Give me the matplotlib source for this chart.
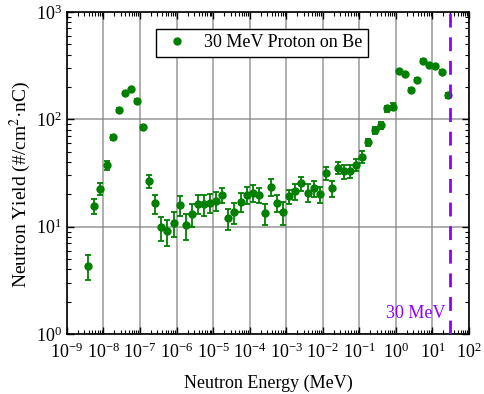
import numpy as np
import matplotlib
matplotlib.use("Agg")
import matplotlib.pyplot as plt
from matplotlib.lines import Line2D
from matplotlib.ticker import LogLocator, NullFormatter

# serif font close to Times
plt.rcParams.update({
    "font.family": "serif",
    "font.serif": ["Liberation Serif", "DejaVu Serif"],
    "mathtext.fontset": "stix",
    "axes.unicode_minus": False,
})

# neutron energy bin centres (MeV), 6 bins per decade
energy = [3.83e-9, 5.62e-9, 8.25e-9,
          1.21e-8, 1.78e-8, 2.61e-8, 3.83e-8, 5.62e-8, 8.25e-8,
          1.21e-7, 1.78e-7, 2.61e-7, 3.83e-7, 5.62e-7, 8.25e-7,
          1.21e-6, 1.78e-6, 2.61e-6, 3.83e-6, 5.62e-6, 8.25e-6,
          1.21e-5, 1.78e-5, 2.61e-5, 3.83e-5, 5.62e-5, 8.25e-5,
          1.21e-4, 1.78e-4, 2.61e-4, 3.83e-4, 5.62e-4, 8.25e-4,
          1.21e-3, 1.78e-3, 2.61e-3, 3.83e-3, 5.62e-3, 8.25e-3,
          1.21e-2, 1.78e-2, 2.61e-2, 3.83e-2, 5.62e-2, 8.25e-2,
          1.21e-1, 1.78e-1, 2.61e-1, 3.83e-1, 5.62e-1, 8.25e-1,
          1.21, 1.78, 2.61, 3.83, 5.62, 8.25,
          12.1, 17.8, 26.1]

# neutron yield (#/cm^2.nC)
yield_ = [4.3, 15.6, 22.6,
          37.2, 68, 123, 176, 191, 149,
          83.8, 26.6, 16.5, 9.9, 9.1, 10.9,
          16.0, 10.3, 13.2, 16.4, 16.1, 16.7,
          17.5, 19.7, 12.0, 13.7, 17.1, 19.7,
          20.5, 19.6, 13.3, 23.6, 16.7, 13.7,
          19.1, 21.4, 25.5, 20.8, 22.7, 20.1,
          31.5, 22.9, 35.4, 32.9, 32.9, 37.8,
          44.8, 60.8, 79.1, 87.5, 126, 131,
          279, 266, 187, 234, 349, 317,
          313, 277, 167]

# uncertainty on yield
yield_err = [1.1, 2.4, 2.7,
             3.7, 4.0, 4.0, 5.0, 5.0, 4.0,
             5.0, 3.7, 3.4, 2.5, 2.5, 2.8,
             3.5, 2.8, 3.2, 3.2, 3.5, 3.4,
             3.4, 3.2, 2.6, 3.0, 3.3, 3.5,
             3.7, 3.1, 3.0, 4.2, 3.1, 3.3,
             3.0, 3.6, 3.8, 3.9, 3.7, 3.4,
             4.5, 3.9, 4.3, 5.0, 4.5, 5.0,
             5.5, 5.0, 6.0, 6.5, 8.0, 10.0,
             10, 10, 8, 9, 12, 11,
             11, 10, 8]

beam_energy = 30  # MeV
series_label = "30 MeV Proton on Be"

green = "#007f00"
purple = "#8f00ff"
FS = 13

fig = plt.figure(figsize=(4.85, 3.94), dpi=100)
ax = fig.add_axes([0.138, 0.152, 0.829, 0.818])

ax.errorbar(energy, yield_, yerr=yield_err, fmt="o", color=green,
            markersize=5, elinewidth=1.3, capsize=2.5, capthick=1.3, zorder=3)

# beam energy line
ax.axvline(beam_energy, color=purple, lw=2, ls=(0, (5, 3.5)), zorder=4)
ax.text(beam_energy * 0.78, 1.55, "30 MeV", color=purple, fontsize=FS,
        ha="right", va="center")

ax.set_xscale("log")
ax.set_yscale("log")
ax.set_xlim(1e-9, 1e2)
ax.set_ylim(1, 1e3)

ax.xaxis.set_major_locator(LogLocator(base=10, numticks=20))
ax.xaxis.set_minor_locator(LogLocator(base=10, subs=np.arange(2, 10), numticks=20))
ax.xaxis.set_minor_formatter(NullFormatter())
ax.yaxis.set_minor_formatter(NullFormatter())

ax.tick_params(which="both", direction="in", top=True, right=True, labelsize=FS)
ax.tick_params(which="major", length=5, width=1)
ax.tick_params(which="minor", length=3, width=0.8)
ax.tick_params(axis="x", pad=6)

ax.grid(True, which="major", color="grey", lw=1.1, alpha=0.8)
for sp in ax.spines.values():
    sp.set_linewidth(1.2)

ax.set_xlabel("Neutron Energy (MeV)", fontsize=FS, labelpad=9)
ax.set_ylabel("Neutron Yield (#/cm$^2$·nC)", fontsize=14)
ax.yaxis.set_label_coords(-0.085, 0.466)

handle = Line2D([], [], marker="o", ls="none", color=green, markersize=5)
leg = ax.legend([handle], [series_label], loc="upper center",
                bbox_to_anchor=(0.485, 0.975), fontsize=FS, fancybox=False,
                edgecolor="black", framealpha=1, handletextpad=0.6,
                borderpad=0.3, handlelength=1.8)
leg.get_frame().set_linewidth(1.0)

fig.savefig("out.png", dpi=100)
